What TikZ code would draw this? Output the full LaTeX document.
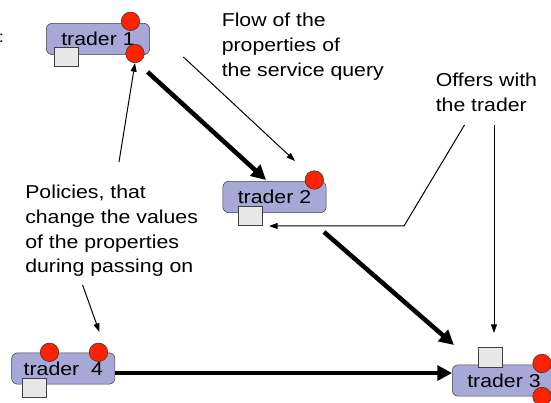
\documentclass[tikz,border=0pt]{standalone}
\usepackage{fontspec}
\setmainfont{Liberation Sans}[FakeStretch=1.14]
\usetikzlibrary{arrows.meta,calc}
\definecolor{traderblue}{RGB}{168,168,214}
\definecolor{portred}{RGB}{255,34,0}
\definecolor{offergray}{RGB}{232,232,232}
\newcommand{\slidefont}{\fontsize{14}{18.6}\selectfont}

\begin{document}
\begin{tikzpicture}[x=0.75pt, y=-0.75pt,
    trader/.style={draw=black!75, fill=traderblue, rounded corners=4.5pt,
      minimum width=77.5pt, minimum height=23.5pt, inner sep=0pt, font=\slidefont},
    port/.style={circle, draw=black!80, fill=portred, minimum size=13.9pt, inner sep=0pt},
    offer/.style={draw=black!75, fill=offergray, minimum width=18pt,
      minimum height=14.5pt, inner sep=0pt},
    flow/.style={line width=3.4pt, -{Triangle[length=11pt, width=11pt]}},
    pointer/.style={line width=0.75pt, -{Triangle[length=6.5pt, width=4.5pt]}},
    remark/.style={anchor=north west, align=left, inner sep=0pt, font=\slidefont}]
  \useasboundingbox (0,0) rectangle (551,403);

  \node[trader] (t1) at (98,39) {trader 1};
  \node[trader] (t2) at (274.5,197) {trader 2};
  \node[trader] (t3) at (504,380.5) {trader 3};
  \node[trader] (t4) at (63.3,368.5) {trader\ \ 4};

  \node[port] (t1in) at (130.5,21.3) {};
  \node[port] (t1out) at (135,53.5) {};
  \node[port] (t2in) at (314.3,180) {};
  \node[port] (t3in) at (542,363.5) {};
  \node[port] (t3out) at (542,396.5) {};
  \node[port] (t4in) at (49.5,352.3) {};
  \node[port] (t4out) at (98.5,352.3) {};

  \node[offer] (t1offer) at (66,56.5) {};
  \node[offer] (t2offer) at (250,215.8) {};
  \node[offer] (t3offer) at (489.8,357.2) {};
  \node[offer] (t4offer) at (34.3,388) {};

  \node[remark] (flownote) at (221.5,12.9) {Flow of the\\properties of\\the service query};
  \node[remark] (offernote) at (435.5,73.1) {Offers with\\the trader};
  \node[remark] (policynote) at (25,184.7) {Policies, that\\change the values\\of the properties\\during passing on};
  \node[anchor=base west, inner sep=0pt, font=\fontsize{12}{14}\selectfont] (cut) at (-1.5,43) {:};

  \coordinate (q12a) at (147.6,72);
  \coordinate (q12b) at (266,180);
  \coordinate (q23a) at (324,232);
  \coordinate (q23b) at (454,345);
  \coordinate (flowtail) at (183.4,57);
  \coordinate (flowtip) at (295,161);
  \coordinate (offertail) at (494,125);
  \coordinate (offertip) at (494,333);
  \coordinate (bendtail) at (464.5,125);
  \coordinate (bend) at (404,226);
  \coordinate (bendtip) at (269,226);
  \coordinate (policytail) at (119,162);
  \coordinate (policy4tail) at (82.6,285);
  \coordinate (policy4tip) at (99.4,332);

  \draw[flow] (q12a) -- (q12b);
  \draw[flow] (q23a) -- (q23b);
  \draw[flow] ([yshift=-3.4pt]t4.east) -- ([yshift=-3.4pt]t4.east -| t3.west);

  \draw[pointer] (flowtail) -- (flowtip);
  \draw[pointer] (offertail) -- (offertip);
  \draw[pointer] (bendtail) -- (bend) -- (bendtip);
  \draw[pointer] (policytail) -- (t1out.south);
  \draw[pointer] (policy4tail) -- (policy4tip);
\end{tikzpicture}
\end{document}
